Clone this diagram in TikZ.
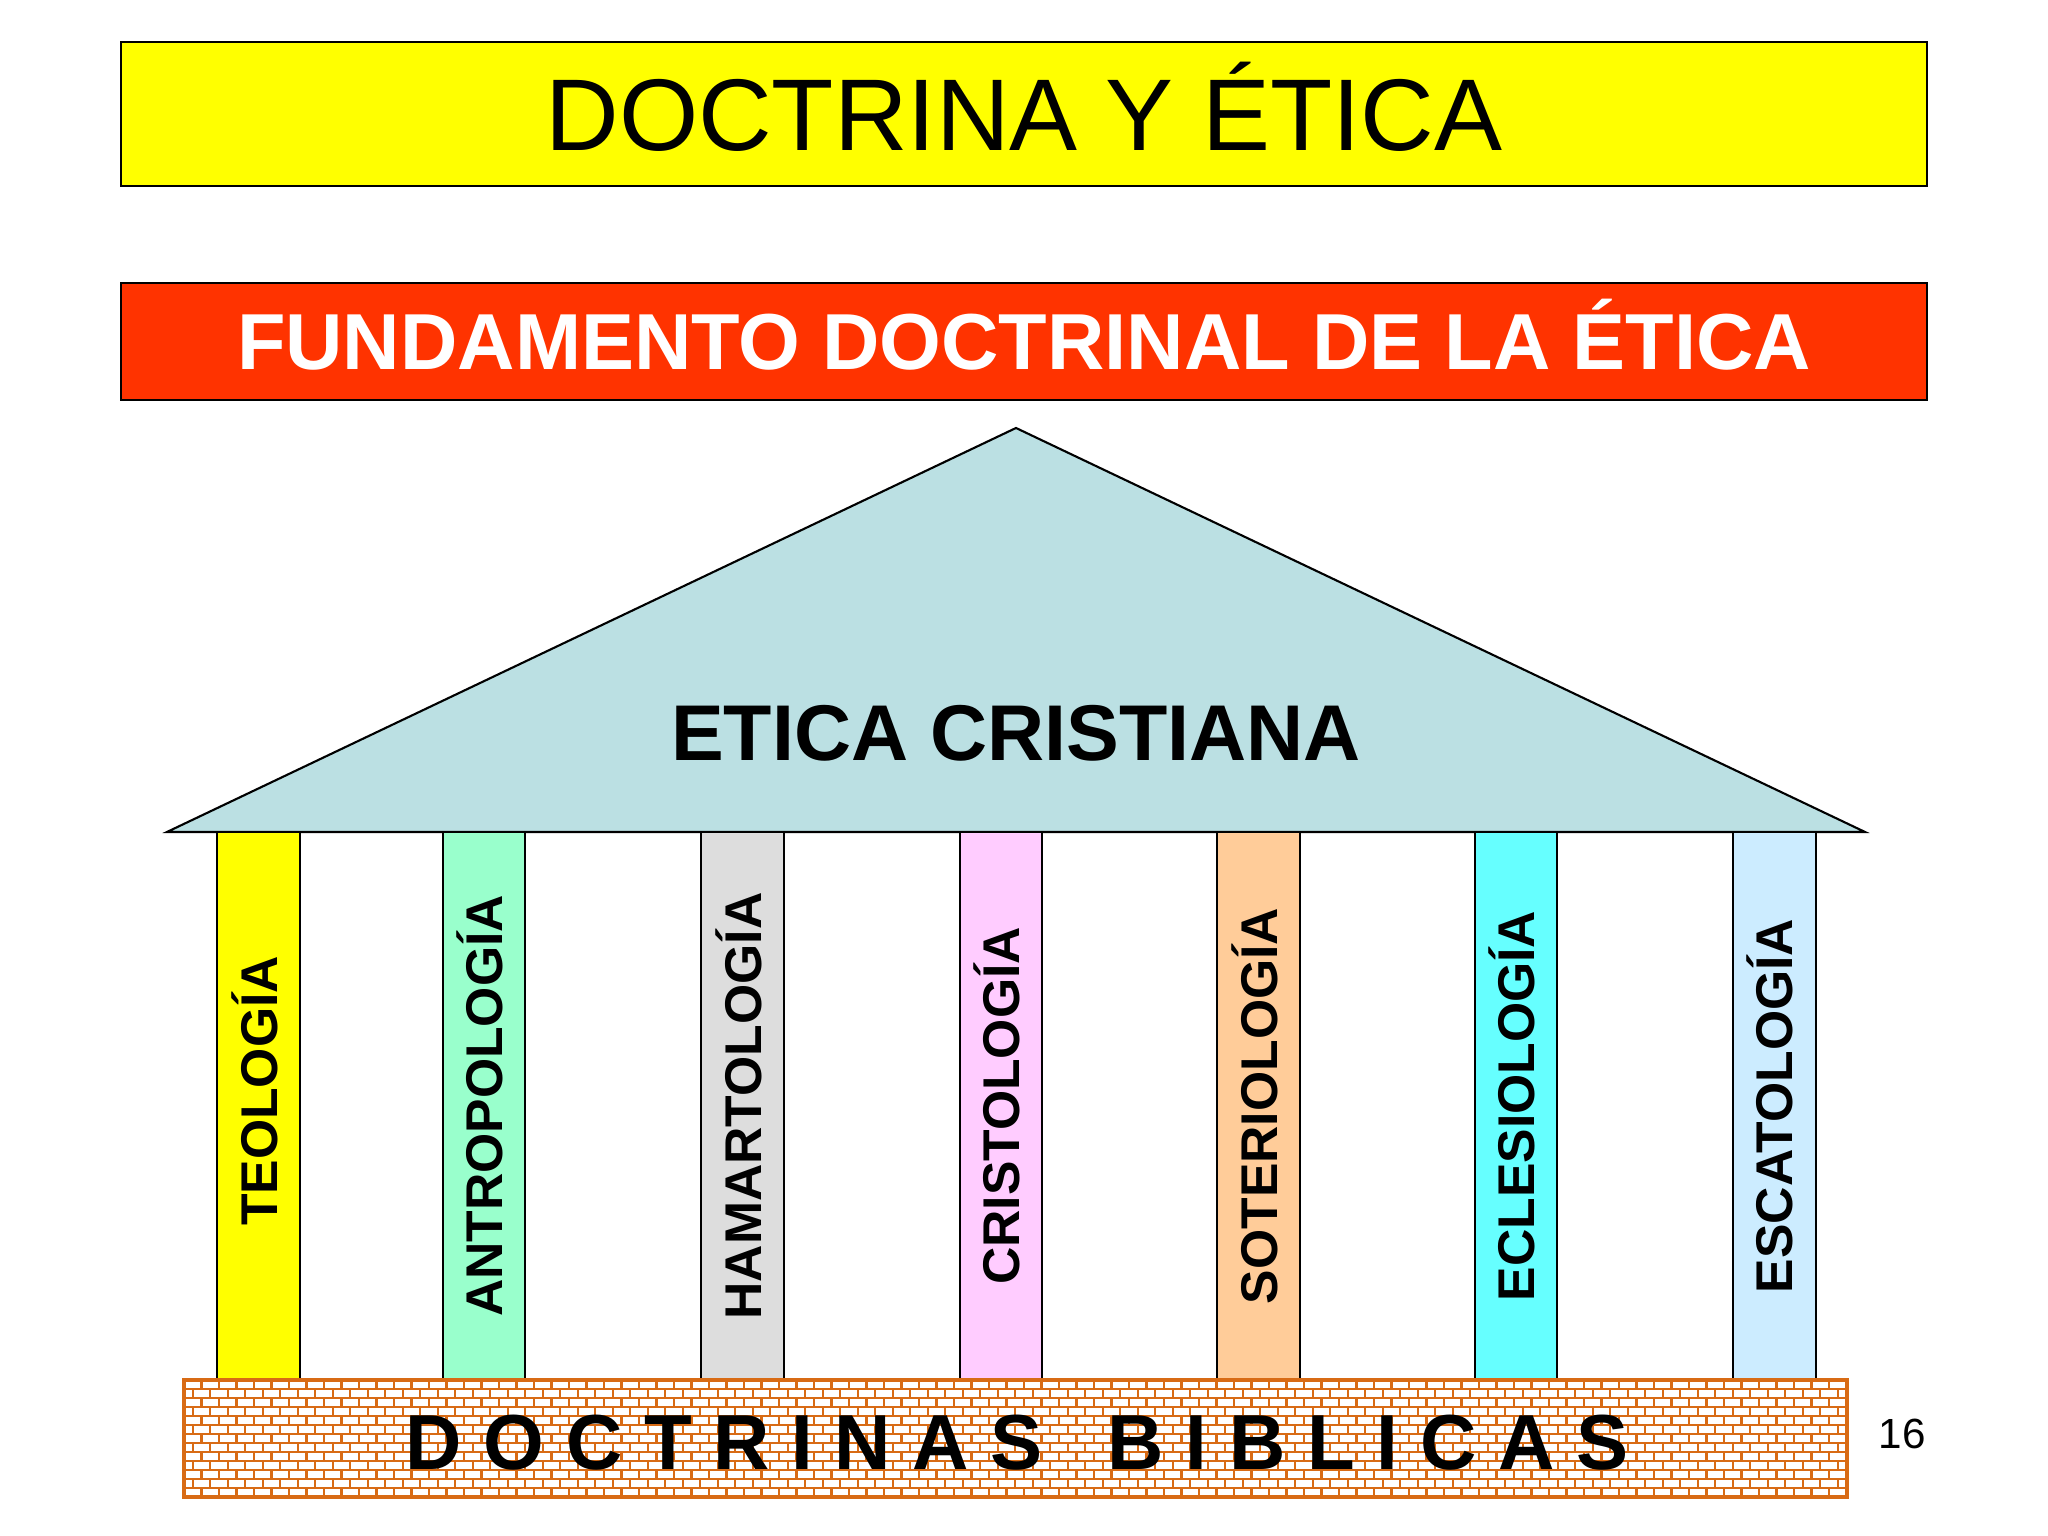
\documentclass[tikz,border=0pt]{standalone}
\usepackage{fontspec}
\setmainfont{Liberation Sans}

\definecolor{titleyellow}{HTML}{FFFF00}
\definecolor{bannerred}{HTML}{FF3300}
\definecolor{roofblue}{HTML}{BBE0E3}
\definecolor{brickorange}{HTML}{D86B15}
\definecolor{colTeo}{HTML}{FFFF00}
\definecolor{colAnt}{HTML}{99FFCC}
\definecolor{colHam}{HTML}{DDDDDD}
\definecolor{colCri}{HTML}{FFCCFF}
\definecolor{colSot}{HTML}{FFCC99}
\definecolor{colEcl}{HTML}{66FFFF}
\definecolor{colEsc}{HTML}{CCECFF}

\tikzset{
  banner/.style={draw, line width=0.6pt, minimum width=18.06cm, text depth=0pt, inner sep=0pt},
  pillar/.style={draw, line width=0.6pt, minimum width=0.825cm, minimum height=5.48cm, inner sep=0pt},
  pillarlabel/.style={rotate=90, inner sep=0pt, text height=0.37cm, text depth=0pt,
    font=\fontsize{14.7}{17}\selectfont\bfseries},
  mortar/.style={brickorange, line width=0.65pt}
}

\begin{document}
\begin{tikzpicture}
        \useasboundingbox (0,0) rectangle (20.48,15.36);

        % Title banners
        \node[banner, fill=titleyellow, minimum height=1.44cm, text height=0.735cm,
              font=\fontsize{29}{35}\selectfont] (title) at (10.24,14.22) {DOCTRINA Y ÉTICA};
        \node[banner, fill=bannerred, text=white, minimum height=1.17cm, text height=0.57cm,
              font=\fontsize{22.6}{27}\selectfont\bfseries] (subtitle) at (10.24,11.945) {FUNDAMENTO DOCTRINAL DE LA ÉTICA};

        % Roof of the temple
        \coordinate (apex) at (10.16,11.08);
        \coordinate (eaveL) at (1.67,7.04);
        \coordinate (eaveR) at (18.65,7.04);
        \draw[fill=roofblue, line width=0.6pt] (eaveL) -- (apex) -- (eaveR) -- cycle;
        \node[inner sep=0pt, text height=0.57cm, text depth=0pt,
              font=\fontsize{22.5}{27}\selectfont\bfseries] (ethics) at (10.16,8.04) {ETICA CRISTIANA};

        % Pillars
        \foreach \x/\col/\name/\dy/\lbl in {2.586/colTeo/teo/0.15/TEOLOGÍA, 4.84/colAnt/ant/0/ANTROPOLOGÍA,
            7.425/colHam/ham/0/HAMARTOLOGÍA, 10.01/colCri/cri/0/CRISTOLOGÍA, 12.585/colSot/sot/0/SOTERIOLOGÍA,
            15.16/colEcl/ecl/0/ECLESIOLOGÍA, 17.744/colEsc/esc/0/ESCATOLOGÍA} {
            \node[pillar, fill=\col] (\name) at (\x,4.30) {};
            \node[pillarlabel] (\name-text) at ([yshift=\dy cm]\name.center) {\lbl};
        }

        % Foundation wall of bricks
        \coordinate (wallSW) at (1.84,0.39);
        \coordinate (wallNE) at (18.47,1.56);
        \fill[white] (wallSW) rectangle (wallNE);
        \begin{scope}
            \clip (wallSW) rectangle (wallNE);
            \foreach \r in {0,...,12} {
                \pgfmathsetmacro{\yy}{0.39+\r*0.09}
                \pgfmathsetmacro{\off}{mod(\r,2)*0.0875}
                \draw[mortar] (1.84,\yy) -- (18.47,\yy);
                \draw[mortar] \foreach \k in {0,...,95} {({1.84+\off+\k*0.175},\yy) -- ++(0,0.09)};
            }
        \end{scope}
        \draw[brickorange, line width=1pt] (wallSW) rectangle (wallNE);
        \node[inner sep=0pt, text height=0.56cm, text depth=0pt,
              font=\fontsize{22.2}{26}\selectfont\bfseries] (base) at (10.17,0.94) {D O C T R I N A S\ \ \ B I B L I C A S};

        % Page number
        \node[font=\fontsize{12}{14}\selectfont] (page) at (19.02,1.02) {16};

    \end{tikzpicture}
\end{document}
